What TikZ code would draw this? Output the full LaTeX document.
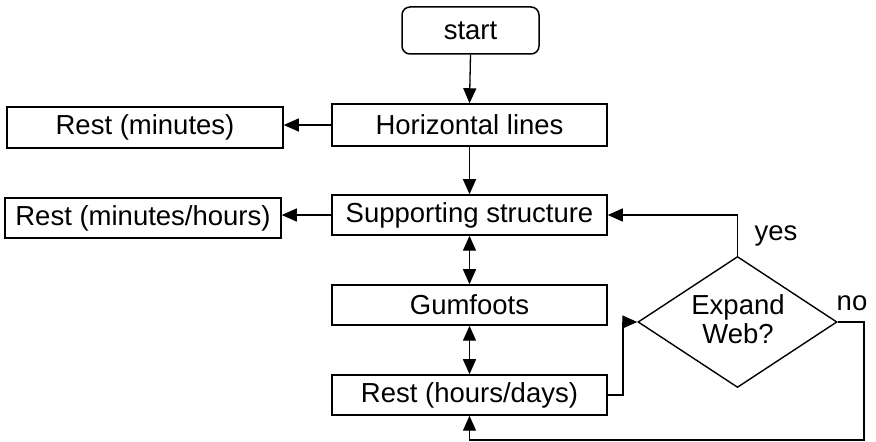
\documentclass[tikz,border=0pt]{standalone}
\usepackage{fontspec}
\setmainfont{Liberation Sans}
\usetikzlibrary{arrows.meta,shapes.geometric}
\begin{document}
\begin{tikzpicture}[x=1pt,y=1pt,
  font=\fontsize{27.5}{31}\selectfont,
  box/.style={draw,line width=1.5pt,rectangle,inner sep=0pt,minimum width=275pt,minimum height=40pt},
  startbox/.style={draw,line width=1.5pt,rounded corners=8pt,inner sep=0pt,minimum width=137pt,minimum height=47pt},
  decide/.style={draw,line width=1.4pt,diamond,inner sep=0pt,minimum width=199pt,minimum height=131pt,align=center},
  lbl/.style={inner sep=0pt},
  conn/.style={line width=1.3pt,-{Triangle[length=15pt,width=13pt]}},
  bconn/.style={line width=1.3pt,{Triangle[length=15pt,width=13pt]}-{Triangle[length=15pt,width=13pt]}}
]
\useasboundingbox (0,0) rectangle (876,442);
\node[startbox] (start) at (470.5,411.5) {start};
\node[box,minimum height=42pt] (hl) at (469.5,317) {Horizontal lines};
\node[box,minimum width=276pt,minimum height=41pt] (rm) at (145,314.5) {Rest (minutes)};
\node[box] (ss) at (469.5,227) {Supporting structure};
\node[box,minimum width=276pt] (rmh) at (143,224) {Rest (minutes/hours)};
\node[box] (gum) at (469.5,137) {Gumfoots};
\node[box] (rhd) at (469.5,47) {Rest (hours/days)};
\node[decide] (dec) at (737.5,120) {};
\node[lbl,align=center,font=\fontsize{27.5}{29}\selectfont] (dectext) at (738,123) {Expand\\Web?};
\node[lbl] (yes) at (776,206) {yes};
\node[lbl] (no) at (852,139) {no};
\coordinate (nocorner) at (864,120);
\coordinate (nobottom) at (864,2);
\coordinate (rhdturn) at (623,47);

\draw[conn] (start.south) -- (hl.north);
\draw[conn] (hl.west) -- (hl.west -| rm.east);
\draw[conn] (hl.south) -- (ss.north);
\draw[conn] (ss.west) -- (ss.west -| rmh.east);
\draw[bconn] (ss.south) -- (gum.north);
\draw[bconn] (gum.south) -- (rhd.north);
\draw[conn] (rhd.east) -- (rhdturn) |- (dec.west);
\draw[conn] (dec.north) |- (ss.east);
\draw[conn] (dec.east) -- (nocorner) -- (nobottom) -| (rhd.south);
\end{tikzpicture}
\end{document}
